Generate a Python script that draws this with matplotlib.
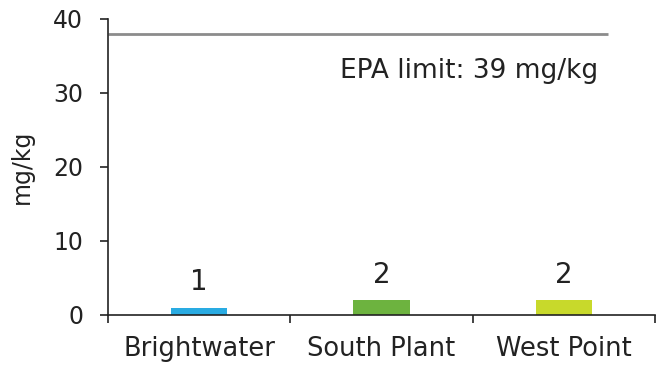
import matplotlib
matplotlib.use("Agg")
import matplotlib.pyplot as plt
import numpy as np

categories = ["Brightwater", "South Plant", "West Point"]
values = [1, 2, 2]
colors = ["#29abe2", "#6db33f", "#c8d92b"]
epa_limit = 38
epa_label = "EPA limit: 39 mg/kg"
y_ticks = [0, 10, 20, 30, 40]

plt.rcParams['font.family'] = ['DejaVu Sans']

fig = plt.figure(figsize=(6.65, 3.69), dpi=100)
ax = fig.add_axes([108/665, 1-315/369, (655-108)/665, (315-19)/369])

x = np.arange(len(categories))
bars = ax.bar(x, values, width=0.31, color=colors)
for xi, v in zip(x, values):
    ax.annotate(str(v), (xi, v), xytext=(0, 12.5), textcoords="offset points",
                ha="center", va="baseline", fontsize=20, color="#222222")

ax.plot([-0.5, 2.24], [epa_limit, epa_limit], color="#8c8c8c", lw=2, solid_capstyle="butt")
ax.text(1.48, 32.0, epa_label, ha="center", va="baseline", fontsize=19, color="#222222")

ax.set_xlim(-0.5, len(categories) - 0.5)
ax.set_ylim(0, 40)
ax.set_yticks(y_ticks)
ax.set_xticks(x)
ax.set_xticklabels(categories)
ax.set_xticks(np.arange(len(categories) + 1) - 0.5, minor=True)
ax.tick_params(axis="x", which="major", length=0, labelsize=18.5, pad=15, colors="#222222")
ax.tick_params(axis="x", which="minor", length=6, width=1.2, direction="out", color="#222222")
ax.tick_params(axis="y", length=6, width=1.2, labelsize=17, pad=12, colors="#222222")
for s in ["top", "right"]:
    ax.spines[s].set_visible(False)
for s in ["left", "bottom"]:
    ax.spines[s].set_linewidth(1.2)
    ax.spines[s].set_color("#222222")
ax.set_ylabel("mg/kg", fontsize=17, color="#222222")
ax.yaxis.set_label_coords(-(108 - 34) / 547, 0.5)

fig.savefig("out.png", dpi=100)
